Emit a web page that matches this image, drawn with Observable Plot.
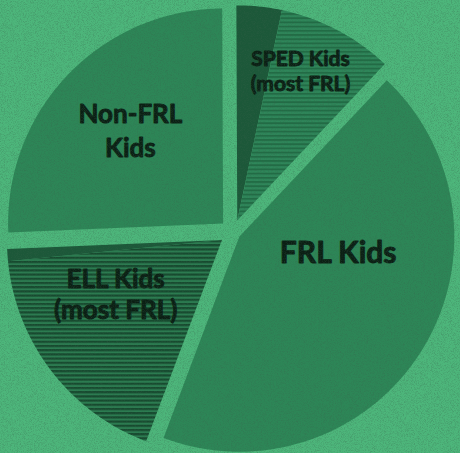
<!DOCTYPE html>
<html>
<head>
<meta charset="utf-8">
<script src="https://cdn.jsdelivr.net/npm/d3@7"></script>
<script src="https://cdn.jsdelivr.net/npm/@observablehq/plot@0.6"></script>
<style>
  html, body { margin: 0; padding: 0; background: #4db67b; }
  #chart { width: 460px; height: 453px; overflow: hidden; }
</style>
</head>
<body>
<div id="chart"></div>
<script>
// ---- data (shares of all kids, %) ----
const categories = ["Non-FRL Kids", "SPED Kids (most FRL)", "FRL Kids", "ELL Kids (most FRL)"];
const labels = ["Non-FRL\nKids", "SPED Kids\n(most FRL)", "FRL Kids", "ELL Kids\n(most FRL)"];
// segments, clockwise, starting with the Non-FRL slice
const segmentCategory = ["Non-FRL Kids", "SPED Kids (most FRL)", "SPED Kids (most FRL)", "FRL Kids", "ELL Kids (most FRL)", "ELL Kids (most FRL)"];
const segmentGroup = ["Non-FRL", "Non-FRL", "FRL", "FRL", "FRL", "Non-FRL"];
const segmentShare = [25.6, 3.4, 8.7, 43.7, 17.7, 0.9];

// ---- layout / style ----
const W = 460, H = 453;
const cx = 232, cy = 232, R = 215;
const startDeg = -92.4;
const explode = {"Non-FRL Kids": 13, "SPED Kids (most FRL)": 13, "FRL Kids": 8, "ELL Kids (most FRL)": 13};
const labelPolar = {
  "Non-FRL Kids": {a: 315.4, r: 132, size: 26, lh: 1.31},
  "SPED Kids (most FRL)": {a: 22.8, r: 163, size: 21, lh: 1.19},
  "FRL Kids": {a: 98.5, r: 100, size: 30, lh: 1.2},
  "ELL Kids (most FRL)": {a: 243.3, r: 119, size: 26, lh: 1.21}
};
function segFill(cat, grp) {
  if (cat === "Non-FRL Kids" || cat === "FRL Kids") return "#2d8657";
  if (grp === "Non-FRL") return "#1c5839";
  return cat.startsWith("SPED") ? "url(#hatchSPED)" : "url(#hatchELL)";
}

// ---- geometry from the values ----
const total = d3.sum(segmentShare);
let acc = startDeg;
const segs = segmentShare.map((v, i) => {
  const a0 = acc, a1 = acc + v / total * 360; acc = a1;
  return {i, cat: segmentCategory[i], grp: segmentGroup[i], a0, a1};
});
const sliceSpan = {};
for (const s of segs) {
  const sp = sliceSpan[s.cat] || (sliceSpan[s.cat] = {a0: s.a0, a1: s.a1});
  sp.a0 = Math.min(sp.a0, s.a0); sp.a1 = Math.max(sp.a1, s.a1);
}
const rad = d => d * Math.PI / 180;
function corner(cat) {
  const sp = sliceSpan[cat], mid = rad((sp.a0 + sp.a1) / 2), e = explode[cat];
  return [cx + e * Math.sin(mid), cy - e * Math.cos(mid)];
}
const pts = [];
for (const s of segs) {
  const [ox, oy] = corner(s.cat);
  pts.push({seg: s.i, x: ox, y: oy});
  const n = Math.max(2, Math.ceil((s.a1 - s.a0) / 0.5));
  for (let k = 0; k <= n; k++) {
    const a = rad(s.a0 + (s.a1 - s.a0) * k / n);
    pts.push({seg: s.i, x: ox + R * Math.sin(a), y: oy - R * Math.cos(a)});
  }
}
const labelData = categories.map((c, i) => {
  const [ox, oy] = corner(c), p = labelPolar[c];
  return {cat: c, text: labels[i], x: ox + p.r * Math.sin(rad(p.a)), y: oy - p.r * Math.cos(rad(p.a))};
});

const marks = [
  ...segs.map(s => Plot.line(pts.filter(p => p.seg === s.i), {
    x: "x", y: "y", curve: "linear-closed", stroke: "none", fill: segFill(s.cat, s.grp)
  })),
  ...labelData.map(d => Plot.text([d], {
    x: "x", y: "y", text: "text", fill: "#0b1f14", stroke: "#0b1f14", strokeWidth: 0.9,
    fontSize: labelPolar[d.cat].size,
    fontWeight: "bold", fontFamily: "Lato, 'Open Sans', sans-serif",
    lineHeight: labelPolar[d.cat].lh, lineAnchor: "middle", textAnchor: "middle"
  }))
];

const svg = Plot.plot({
  width: W, height: H, margin: 0,
  x: {domain: [0, W], range: [0, W], axis: null},
  y: {domain: [0, H], range: [0, H], axis: null},
  style: {background: "#4db67b", overflow: "hidden"},
  marks
});

const defs = d3.select(svg).insert("defs", ":first-child");
const pE = defs.append("pattern").attr("id", "hatchELL").attr("patternUnits", "userSpaceOnUse").attr("width", 8).attr("height", 4.2);
pE.append("rect").attr("width", 8).attr("height", 4.2).attr("fill", "#2b7d51");
pE.append("rect").attr("width", 8).attr("height", 2.2).attr("fill", "#174a2f");
const pS = defs.append("pattern").attr("id", "hatchSPED").attr("patternUnits", "userSpaceOnUse").attr("width", 8).attr("height", 4.2);
pS.append("rect").attr("width", 8).attr("height", 4.2).attr("fill", "#2e875a");
pS.append("rect").attr("width", 8).attr("height", 1.8).attr("fill", "#216c45");
// paper grain
const f = defs.append("filter").attr("id", "grain").attr("x", 0).attr("y", 0).attr("width", "100%").attr("height", "100%");
f.append("feTurbulence").attr("type", "fractalNoise").attr("baseFrequency", 1.3).attr("numOctaves", 2).attr("seed", 5);
f.append("feColorMatrix").attr("type", "matrix").attr("values", "0 0 0 0 0.04  0 0 0 0 0.12  0 0 0 0 0.07  0 0 0 -2.6 1.5");
d3.select(svg).append("rect").attr("width", W).attr("height", H).attr("filter", "url(#grain)").attr("opacity", 0.3).attr("pointer-events", "none");

document.getElementById("chart").appendChild(svg);
</script>
</body>
</html>
